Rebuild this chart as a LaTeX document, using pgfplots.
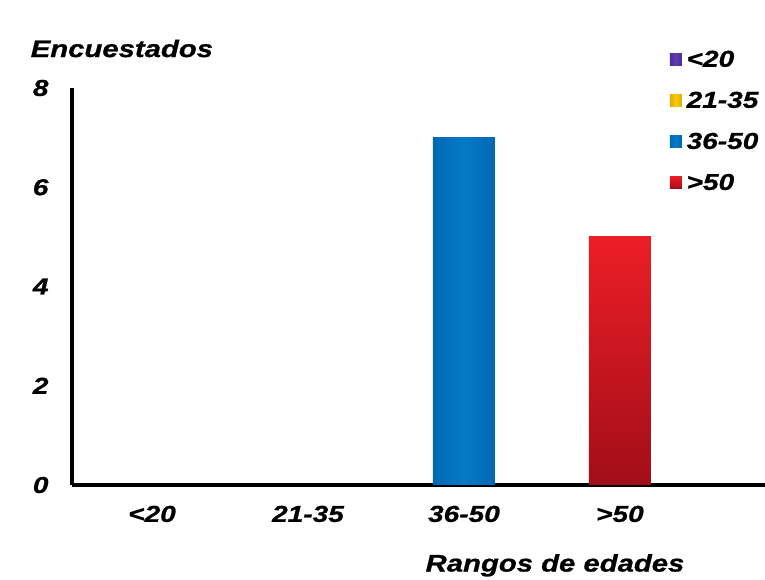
\documentclass[border=0pt]{standalone}
\usepackage{pgfplots}
\pgfplotsset{compat=1.18}
\usepackage{fontspec}
\setmainfont{Liberation Sans}[FakeStretch=1.22, FakeBold=0.9]

\definecolor{cPurple}{RGB}{96,62,176}
\definecolor{cPurpleD}{RGB}{72,46,150}
\definecolor{cYellow}{RGB}{250,205,10}
\definecolor{cYellowD}{RGB}{225,170,0}
\definecolor{cBlue}{RGB}{6,122,200}
\definecolor{cBlueD}{RGB}{0,104,180}
\definecolor{cRed}{RGB}{236,30,38}
\definecolor{cRedM}{RGB}{218,26,34}
\definecolor{cRedD}{RGB}{162,14,24}

\newcommand{\lbl}{\fontsize{23}{26}\selectfont\bfseries\itshape}

\begin{document}
\begin{tikzpicture}
\useasboundingbox (0,0) rectangle (765pt,580pt);
\begin{axis}[
  at={(72pt,95pt)}, anchor=south west,
  scale only axis, width=693pt, height=397pt,
  xmin=-0.513, xmax=3.93, ymin=0, ymax=8,
  axis x line*=bottom, axis y line*=left,
  axis line style={-, line width=3.5pt, black},
  xtick={0,1,2,3},
  xticklabels={<20,21-35,36-50,>50},
  ytick={0,2,4,6,8},
  tick style={draw=none},
  /pgf/number format/assume math mode=true,
  tick label style={font=\lbl},
  yticklabel style={xshift=-20pt},
  xticklabel style={yshift=-13pt},
  ylabel={Encuestados},
  ylabel style={rotate=-90, font=\fontsize{24}{27}\selectfont\bfseries\itshape,
    at={(rel axis cs:0.072,1.078)}, anchor=base},
  xlabel={Rangos de edades},
  xlabel style={font=\fontsize{24}{27}\selectfont\bfseries\itshape,
    at={(rel axis cs:0.697,-0.218)}, anchor=base},
  ybar, bar width=62pt,
  every axis plot/.append style={bar shift=0pt, draw=none},
  legend style={at={(rel axis cs:0.858,1.102)}, anchor=north west,
    draw=none, fill=none, font=\lbl, row sep=21.5pt,
    nodes={inner sep=1pt}},
  legend cell align=left,
  legend image code/.code={\fill[#1] (0pt,-6pt) rectangle (12pt,6pt);},
]
\addplot[left color=cPurpleD, right color=cPurpleD, middle color=cPurple] coordinates {(0,0)};
\addplot[left color=cYellowD, right color=cYellowD, middle color=cYellow] coordinates {(1,0)};
\addplot[left color=cBlueD, right color=cBlueD, middle color=cBlue] coordinates {(2,7)};
\addplot[top color=cRed, middle color=cRedM, bottom color=cRedD] coordinates {(3,5)};
\legend{\,<20,\,21-35,\,36-50,\,>50}
\end{axis}
\end{tikzpicture}
\end{document}
